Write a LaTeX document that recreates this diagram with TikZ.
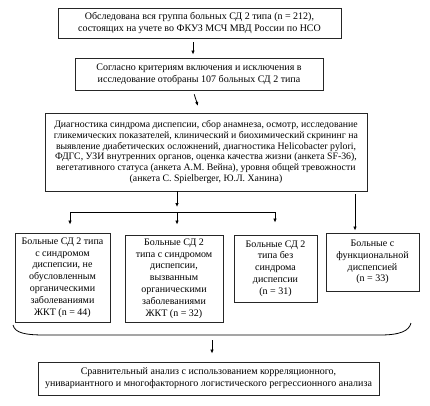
\documentclass[tikz,border=0pt]{standalone}
\usepackage{fontspec}
\setmainfont{Liberation Serif}
\usetikzlibrary{arrows.meta}

\tikzset{
	blk/.style={draw=black!85, line width=0.9pt, align=center, inner sep=2pt, font=\fontsize{10}{11.8}\selectfont},
	arr/.style={-{Latex[length=4pt,width=3.5pt]}, line width=0.8pt},
	ln/.style={line width=0.8pt}
}

\begin{document}
\begin{tikzpicture}[x=1pt,y=-1pt]
		\useasboundingbox (0,0) rectangle (430,405);
		\node[blk, minimum width=283pt, minimum height=30pt] (all) at (199.5,23) {Обследована вся группа больных СД 2 типа (n = 212),\\состоящих на учете во ФКУЗ МСЧ МВД России по НСО};
		\node[blk, minimum width=248pt, minimum height=32pt] (sel) at (199,74) {Согласно критериям включения и исключения в\\исследование отобраны 107 больных СД 2 типа};
		\node[blk, minimum width=322pt, minimum height=78pt, font=\fontsize{9.8}{10.8}\selectfont] (diag) at (206,152) {Диагностика синдрома диспепсии, сбор анамнеза, осмотр, исследование\\гликемических показателей, клинический и биохимический скрининг на\\выявление диабетических осложнений, диагностика Helicobacter pylori,\\ФДГС, УЗИ внутренних органов, оценка качества жизни (анкета SF-36),\\вегетативного статуса (анкета А.М. Вейна), уровня общей тревожности\\(анкета C. Spielberger, Ю.Л. Ханина)};
		\node[blk, minimum width=95pt, minimum height=89pt] (nof) at (62.5,277.5) {Больные СД 2 типа\\с синдромом\\диспепсии, не\\обусловленным\\органическими\\заболеваниями\\ЖКТ (n = 44)};
		\node[blk, minimum width=98pt, minimum height=87pt] (org) at (174,278.5) {Больные СД 2\\типа с синдромом\\диспепсии,\\вызванным\\органическими\\заболеваниями\\ЖКТ (n = 32)};
		\node[blk, minimum width=83pt, minimum height=67pt] (nod) at (275.5,268.5) {Больные СД 2\\типа без\\синдрома\\диспепсии\\(n = 31)};
		\node[blk, minimum width=93pt, minimum height=58pt] (fun) at (372.5,262) {Больные с\\функциональной\\диспепсией\\(n = 33)};
		\node[blk, minimum width=341pt, minimum height=33pt] (cmp) at (208.5,378.5) {Сравнительный анализ с использованием корреляционного,\\унивариантного и многофакторного логистического регрессионного анализа};
		\coordinate (jm) at (177,212);
		\coordinate (jl) at (70,212);
		\coordinate (jr) at (275,212);
		\coordinate (rt) at (355,194);
		\coordinate (bl) at (13,325);
		\coordinate (br) at (411,323);
		\coordinate (bm) at (212,340);
		\draw[arr, shorten <=4pt, shorten >=3pt] ([xshift=-6.5pt]all.south) -- ([xshift=-6pt]sel.north);
		\draw[arr, shorten <=4pt, shorten >=7pt] ([xshift=-6pt]sel.south) -- ([xshift=-6pt]diag.north);
		\draw[arr, shorten >=5pt] (jm |- diag.south) -- (jm);
		\draw[ln] (jl) -- (jr);
		\draw[arr, shorten >=8pt] (jl) -- (jl |- nof.north);
		\draw[arr, shorten >=10pt] (jm) -- (jm |- org.north);
		\draw[arr, shorten >=12pt] (jr) -- (jr |- nod.north);
		\draw[arr, shorten >=2pt] (rt) -- (rt |- fun.north);
		\draw[ln] (bl) .. controls (15,333) and (25,335) .. (45,335) -- (380,335) .. controls (400,335) and (409,331) .. (br);
		\draw[arr, shorten >=8pt] (bm) -- (bm |- cmp.north);
	\end{tikzpicture}
\end{document}
